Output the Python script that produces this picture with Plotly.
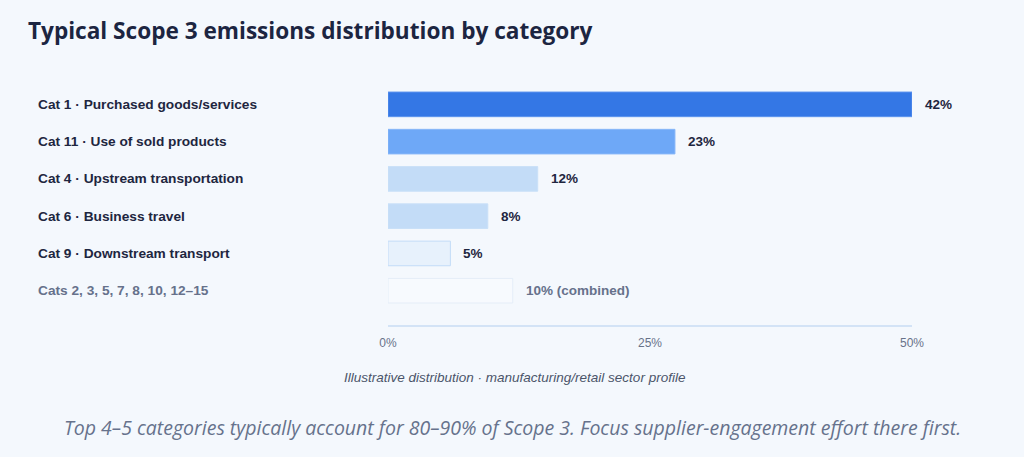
import plotly.graph_objects as go

categories = [
    "Cat 1 · Purchased goods/services",
    "Cat 11 · Use of sold products",
    "Cat 4 · Upstream transportation",
    "Cat 6 · Business travel",
    "Cat 9 · Downstream transport",
    "Cats 2, 3, 5, 7, 8, 10, 12–15",
]
shares = [42, 23, 12, 8, 5, 10]
value_labels = ["42%", "23%", "12%", "8%", "5%", "10% (combined)"]
tick_vals = [0, 21, 42]
tick_text = ["0%", "25%", "50%"]

bar_fill = ["#3477e5", "#6ea8f7", "#c3dcf7", "#c3dcf7", "#e7f1fc", "#f7fafe"]
bar_line = ["#5b93ee", "#86b6f8", "#c9e0f8", "#c9e0f8", "#c3dcf7", "#e4edf8"]
label_col = ["#1e2640"] * 5 + ["#66718b"]

BG = "#f4f8fd"

fig = go.Figure()
fig.add_trace(go.Bar(
    x=shares,
    y=list(range(len(categories))),
    orientation="h",
    marker=dict(color=bar_fill, line=dict(color=bar_line, width=1)),
    width=0.66,
    hoverinfo="skip",
))

# value labels next to each bar
for i, (v, t) in enumerate(zip(shares, value_labels)):
    fig.add_annotation(
        x=v, y=i, text=t, showarrow=False, xanchor="left", xshift=11,
        font=dict(family="Liberation Sans", size=13.5, color=label_col[i], weight=700),
    )

# category labels, left aligned
for i, c in enumerate(categories):
    fig.add_annotation(
        xref="paper", x=-0.672, y=i, text=c, showarrow=False, xanchor="left",
        font=dict(family="Liberation Sans", size=13.7, color=label_col[i], weight=700),
    )

fig.add_annotation(
    xref="paper", yref="paper", x=0.242, y=-0.215, xanchor="center", yanchor="middle",
    text="<i>Illustrative distribution · manufacturing/retail sector profile</i>",
    showarrow=False, font=dict(family="Liberation Sans", size=13.5, color="#4b556a"),
)
fig.add_annotation(
    xref="paper", yref="paper", x=0.237, y=-0.42, xanchor="center", yanchor="middle",
    text="<i>Top 4–5 categories typically account for 80–90% of Scope 3. Focus supplier-engagement effort there first.</i>",
    showarrow=False, font=dict(family="Open Sans", size=19.5, color="#66728c"),
)

fig.update_layout(
    width=1024, height=457,
    paper_bgcolor=BG, plot_bgcolor=BG,
    margin=dict(l=388, r=112, t=82, b=132),
    showlegend=False,
    title=dict(
        text="<b>Typical Scope 3 emissions distribution by category</b>",
        x=0.0273, xanchor="left", y=0.932, yanchor="middle",
        font=dict(family="Open Sans", size=22.6, color="#1c2541"),
    ),
    xaxis=dict(
        range=[0, 42], tickvals=tick_vals, ticktext=tick_text,
        showgrid=False, zeroline=False, showline=True, linecolor="#d3e3f6", linewidth=2,
        ticks="", ticklabelstandoff=6,
        tickfont=dict(family="Liberation Sans", size=12, color="#687289"),
    ),
    yaxis=dict(
        range=[5.92, -0.6], showticklabels=False, showgrid=False, zeroline=False,
    ),
)

fig.write_html(
    "out.html",
    config={"displayModeBar": False},
    post_script="document.body.style.margin='0px';document.body.style.background='%s';" % BG,
)
